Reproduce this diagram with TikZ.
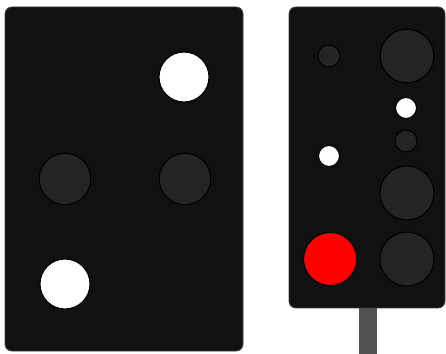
\documentclass[tikz,border=0pt]{standalone}
\usepackage{tikz}
\usepackage{xcolor}
\definecolor{panelbg}{RGB}{17, 17, 17}
\definecolor{paneledge}{RGB}{60, 60, 60}
\definecolor{lampoff}{RGB}{36, 36, 36}
\definecolor{lampred}{RGB}{255, 0, 0}
\definecolor{polegray}{RGB}{80, 80, 80}

\begin{document}
\begin{tikzpicture}[x=0.02cm, y=-0.02cm,
      panel/.style={fill=panelbg, draw=paneledge, line width=0.5pt, rounded corners=0.14cm},
      lamp/.style={circle, draw=black, line width=0.6pt, fill=lampoff, inner sep=0pt, minimum size=#1},
      lit/.style={lamp=#1, fill=white},
      redlit/.style={lamp=#1, fill=lampred}
   ]
      \useasboundingbox (0,0) rectangle (446,354);

      % Left panel
      \draw[panel] (5,7) rectangle (243,351);
      \node (ltop)  [lit=1cm]     at (184,77)  {};
      \node (lmidl) [lamp=1.03cm] at (65,179)  {};
      \node (lmidr) [lamp=1.03cm] at (185,179) {};
      \node (lbot)  [lit=1cm]     at (65,284)  {};

      % Right panel with pole
      \fill[polegray] (359,306) rectangle (377,354);
      \draw[panel] (289,7) rectangle (445,308);
      \node (rsmall1) [lamp=0.44cm]  at (329,56)  {};
      \node (rbig1)   [lamp=1.07cm]  at (407,56)  {};
      \node (rwhite1) [lit=0.42cm]   at (406,108) {};
      \node (rsmall2) [lamp=0.44cm]  at (406,141) {};
      \node (rwhite2) [lit=0.42cm]   at (329,156) {};
      \node (rbig2)   [lamp=1.08cm]  at (407,193) {};
      \node (rred)    [redlit=1.06cm] at (330,259) {};
      \node (rbig3)   [lamp=1.08cm]  at (407,259) {};
   \end{tikzpicture}
\end{document}
